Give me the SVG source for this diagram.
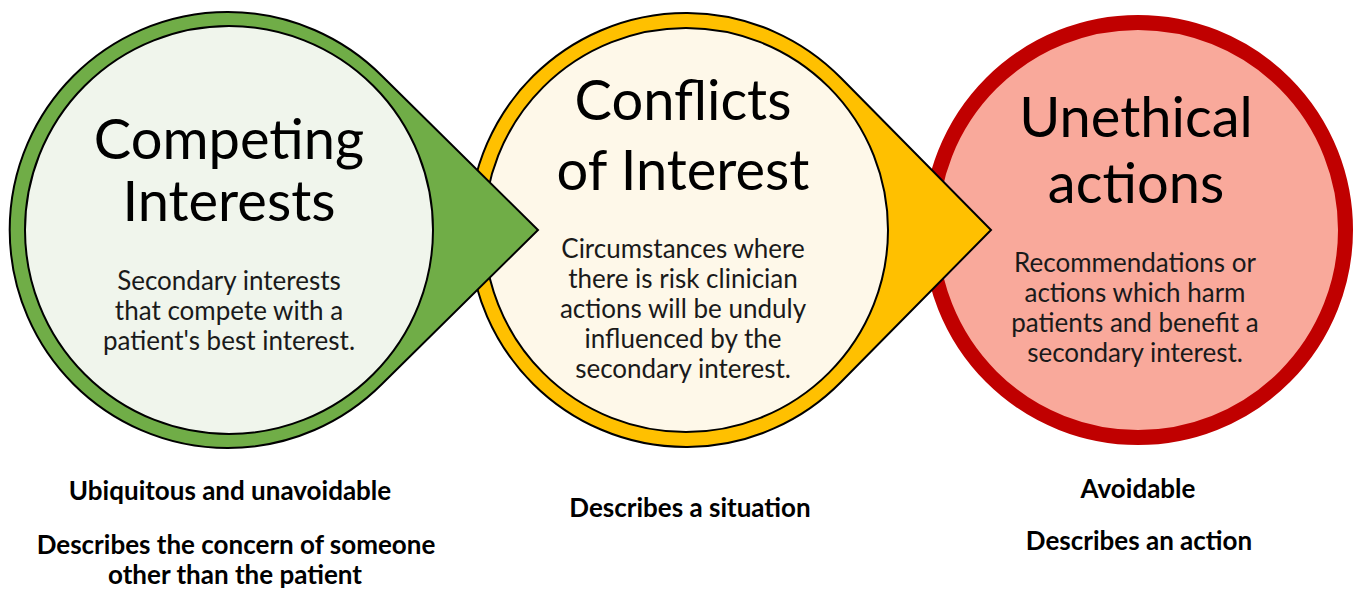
<svg xmlns="http://www.w3.org/2000/svg" width="1360" height="597" viewBox="0 0 1360 597">
<style>
.title{font-family:Lato,"Open Sans",sans-serif;font-size:56px;fill:#000;text-anchor:middle}
.body{font-family:Lato,"Open Sans",sans-serif;font-size:26px;fill:#1a1a1a;text-anchor:middle}
.note{font-family:Lato,"Open Sans",sans-serif;font-size:26px;font-weight:bold;fill:#000;text-anchor:middle}
.edge{stroke:#000;stroke-width:2;stroke-linejoin:miter}
</style>
<rect width="1360" height="597" fill="#fff"/>
<g id="node-unethical">
<circle cx="1138" cy="230" r="207.5" fill="#F9A99B" stroke="#C00000" stroke-width="15"/>
<text class="title" x="1136" y="137">Unethical</text>
<text class="title" x="1136" y="203">actions</text>
<text class="body" x="1135" y="272">Recommendations or</text>
<text class="body" x="1135" y="302">actions which harm</text>
<text class="body" x="1135" y="332">patients and benefit a</text>
<text class="body" x="1135" y="362">secondary interest.</text>
</g>
<g id="node-conflicts">
<path class="edge" fill="#FFC000" d="M841,78 L991,230 L841,382 A217,217 0 1 1 841,78 Z"/>
<circle class="edge" cx="686" cy="230" r="202" fill="#FEF8E9"/>
<text class="title" x="683" y="120">Conflicts</text>
<text class="title" x="683" y="190">of Interest</text>
<text class="body" x="683" y="258">Circumstances where</text>
<text class="body" x="683" y="288">there is risk clinician</text>
<text class="body" x="683" y="318">actions will be unduly</text>
<text class="body" x="683" y="348">influenced by the</text>
<text class="body" x="683" y="378">secondary interest.</text>
</g>
<g id="node-competing">
<path class="edge" fill="#70AD47" d="M382,76 L538,230 L382,384 A218,218 0 1 1 382,76 Z"/>
<circle class="edge" cx="229" cy="230" r="204" fill="#F0F5EC"/>
<text class="title" x="229" y="159">Competing</text>
<text class="title" x="229" y="221">Interests</text>
<text class="body" x="229" y="290">Secondary interests</text>
<text class="body" x="229" y="320">that compete with a</text>
<text class="body" x="229" y="350">patient's best interest.</text>
</g>
<g id="connectors"></g>
<g id="notes">
<text class="note" x="230" y="500">Ubiquitous and unavoidable</text>
<text class="note" x="236" y="554">Describes the concern of someone</text>
<text class="note" x="235" y="584">other than the patient</text>
<text class="note" x="690" y="517">Describes a situation</text>
<text class="note" x="1138" y="498">Avoidable</text>
<text class="note" x="1139" y="550">Describes an action</text>
</g>
</svg>
